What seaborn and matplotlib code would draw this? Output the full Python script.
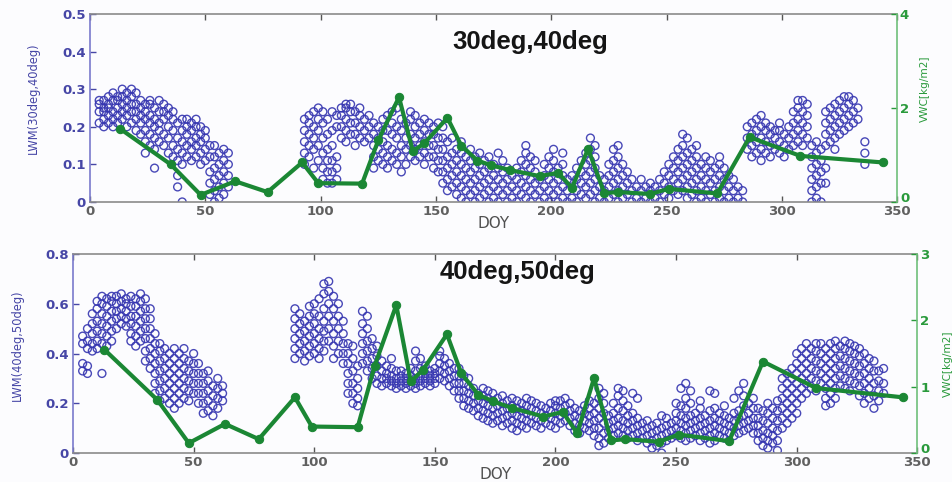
import matplotlib
matplotlib.use("Agg")
import matplotlib.pyplot as plt
import matplotlib.transforms as mtransforms
import seaborn as sns
import pandas as pd
import numpy as np

# ---------------- data ----------------
# VWC (green line), same series in both panels
vwc_doy = [13, 35, 48, 63, 77, 92, 99, 118, 125, 134, 140, 145, 155, 161, 168, 174,
           182, 195, 203, 209, 216, 223, 229, 243, 251, 272, 286, 308, 344]
vwc_val = [1.56, 0.80, 0.15, 0.44, 0.21, 0.84, 0.40, 0.39, 1.31, 2.23, 1.08, 1.25, 1.79,
           1.20, 0.88, 0.78, 0.68, 0.55, 0.62, 0.30, 1.13, 0.19, 0.21, 0.17, 0.28, 0.18,
           1.38, 0.98, 0.84]

# LWM(30deg,40deg): DOY columns and the values read in each column
lwm1_doy = [4, 6, 8, 10, 12, 14, 16, 18, 20, 22, 24, 26, 28, 30, 32, 34, 36, 38, 40, 42,
            44, 46, 48, 50, 52, 54, 56, 58, 60,
            93, 95, 97, 99, 101, 103, 105, 107, 109, 111, 113, 115, 117, 119, 121, 123,
            125, 127, 129, 131, 133, 135, 137, 139, 141, 143, 145, 147, 149, 151, 153,
            155, 157, 159, 161, 163, 165, 167, 169, 171, 173, 175, 177, 179, 181, 183,
            185, 187, 189, 191, 193, 195, 197, 199, 201, 203, 205, 207, 209, 211, 213,
            215, 217, 219, 221, 223, 225, 227, 229, 231, 233, 235, 237, 239, 241, 243,
            245, 247, 249, 251, 253, 255, 257, 259, 261, 263, 265, 267, 269, 271, 273,
            275, 277, 279, 281, 283, 285, 287, 289, 291, 293, 295, 297, 299, 301, 303,
            305, 307, 309, 311, 313, 315, 317, 319, 321, 323, 325, 327, 329, 331, 333, 336]
lwm1_val = [
    [0.21, 0.24, 0.26, 0.27], [0.20, 0.22, 0.25, 0.27, 0.24], [0.21, 0.23, 0.26, 0.28, 0.25],
    [0.20, 0.22, 0.24, 0.27, 0.29], [0.21, 0.23, 0.25, 0.27, 0.28], [0.22, 0.24, 0.26, 0.28, 0.30],
    [0.20, 0.23, 0.25, 0.27, 0.29], [0.21, 0.24, 0.26, 0.28, 0.30], [0.19, 0.22, 0.24, 0.26, 0.29],
    [0.18, 0.21, 0.23, 0.25, 0.27], [0.16, 0.19, 0.22, 0.24, 0.26, 0.13], [0.15, 0.18, 0.21, 0.23, 0.26, 0.27],
    [0.14, 0.17, 0.20, 0.22, 0.25, 0.09], [0.16, 0.19, 0.21, 0.24, 0.27], [0.15, 0.18, 0.22, 0.24, 0.26],
    [0.13, 0.17, 0.20, 0.23, 0.25], [0.12, 0.15, 0.19, 0.22, 0.24], [0.07, 0.11, 0.14, 0.17, 0.21, 0.04],
    [0.10, 0.13, 0.16, 0.19, 0.22, 0.00], [0.12, 0.15, 0.18, 0.20, 0.22], [0.11, 0.14, 0.16, 0.19, 0.21],
    [0.12, 0.15, 0.17, 0.20, 0.22], [0.10, 0.13, 0.16, 0.18, 0.20], [0.11, 0.14, 0.17, 0.19],
    [0.02, 0.05, 0.08, 0.12, 0.15], [0.00, 0.03, 0.06, 0.09, 0.12, 0.15], [0.01, 0.04, 0.07, 0.10, 0.13],
    [0.02, 0.05, 0.08, 0.11, 0.14], [0.04, 0.07, 0.10, 0.13],
    [0.10, 0.13, 0.16, 0.19, 0.22], [0.12, 0.15, 0.18, 0.21, 0.23], [0.09, 0.14, 0.17, 0.20, 0.24],
    [0.11, 0.15, 0.19, 0.22, 0.25], [0.06, 0.09, 0.13, 0.17, 0.21, 0.24], [0.05, 0.08, 0.11, 0.14, 0.18, 0.22],
    [0.05, 0.08, 0.11, 0.15, 0.19, 0.24], [0.06, 0.09, 0.12, 0.20, 0.23], [0.17, 0.20, 0.23, 0.25],
    [0.16, 0.19, 0.22, 0.25, 0.26], [0.18, 0.21, 0.24, 0.26], [0.15, 0.18, 0.21, 0.24],
    [0.17, 0.20, 0.23, 0.25], [0.16, 0.19, 0.22], [0.17, 0.20, 0.23], [0.09, 0.12, 0.15, 0.18, 0.21],
    [0.11, 0.14, 0.17, 0.20], [0.10, 0.13, 0.16, 0.19, 0.22], [0.09, 0.12, 0.15, 0.19, 0.23],
    [0.11, 0.14, 0.18, 0.21, 0.24], [0.10, 0.13, 0.17, 0.20, 0.25], [0.08, 0.12, 0.15, 0.19, 0.22],
    [0.10, 0.14, 0.17, 0.21], [0.12, 0.15, 0.18, 0.22, 0.24], [0.11, 0.14, 0.17, 0.20, 0.23],
    [0.12, 0.15, 0.18, 0.21], [0.10, 0.13, 0.16, 0.19, 0.22], [0.12, 0.15, 0.18, 0.21],
    [0.09, 0.12, 0.15, 0.18, 0.20], [0.08, 0.11, 0.14, 0.17, 0.21], [0.05, 0.08, 0.11, 0.14, 0.17, 0.20],
    [0.03, 0.06, 0.09, 0.12, 0.16], [0.04, 0.07, 0.10, 0.13, 0.17], [0.02, 0.05, 0.08, 0.11, 0.14],
    [0.01, 0.04, 0.07, 0.10, 0.13, 0.16], [0.00, 0.03, 0.06, 0.09, 0.12], [0.02, 0.05, 0.08, 0.11, 0.14],
    [0.00, 0.03, 0.06, 0.09, 0.12], [0.01, 0.04, 0.07, 0.10, 0.13], [0.02, 0.05, 0.08, 0.11],
    [0.00, 0.03, 0.06, 0.09, 0.12], [0.01, 0.04, 0.07, 0.10], [0.00, 0.03, 0.06, 0.09, 0.13],
    [0.02, 0.05, 0.08, 0.11], [0.00, 0.03, 0.06, 0.09], [0.01, 0.04, 0.07], [0.00, 0.03, 0.06, 0.09],
    [0.02, 0.05, 0.08, 0.11], [0.01, 0.04, 0.07, 0.10, 0.13, 0.15], [0.00, 0.03, 0.06, 0.09, 0.12],
    [0.02, 0.05, 0.08, 0.11], [0.00, 0.03, 0.06], [0.01, 0.04, 0.07, 0.10], [0.00, 0.03, 0.06, 0.09, 0.12],
    [0.02, 0.05, 0.08, 0.11, 0.14], [0.00, 0.03, 0.06, 0.09], [0.01, 0.04, 0.07, 0.10, 0.13],
    [0.00, 0.03, 0.06], [0.01, 0.04, 0.07], [0.00, 0.03, 0.06, 0.09], [0.02, 0.05, 0.08, 0.11],
    [0.01, 0.04, 0.07, 0.10, 0.13], [0.02, 0.05, 0.08, 0.11, 0.14, 0.17], [0.00, 0.03, 0.06, 0.09, 0.12, 0.15],
    [0.01, 0.04, 0.07], [0.00, 0.03, 0.06], [0.01, 0.04, 0.07, 0.10], [0.02, 0.05, 0.08, 0.11, 0.14],
    [0.00, 0.03, 0.06, 0.09, 0.12, 0.15], [0.01, 0.04, 0.07, 0.10], [0.02, 0.05, 0.08], [0.00, 0.03, 0.06],
    [0.01, 0.04], [0.00, 0.03, 0.06], [0.01, 0.04], [0.00, 0.03, 0.05], [0.01, 0.04], [0.00, 0.03, 0.06],
    [0.02, 0.05, 0.08], [0.01, 0.04, 0.07, 0.10], [0.03, 0.06, 0.09, 0.12], [0.02, 0.05, 0.08, 0.11, 0.14],
    [0.03, 0.06, 0.09, 0.12, 0.15, 0.18], [0.01, 0.04, 0.07, 0.10, 0.13, 0.17], [0.02, 0.05, 0.08, 0.11, 0.14],
    [0.00, 0.03, 0.06, 0.09, 0.12, 0.15], [0.01, 0.04, 0.07, 0.10], [0.00, 0.03, 0.06, 0.09, 0.12],
    [0.02, 0.05, 0.08, 0.11], [0.00, 0.03, 0.06, 0.09], [0.01, 0.04, 0.07, 0.10, 0.12],
    [0.00, 0.03, 0.06, 0.09], [0.01, 0.04, 0.07], [0.00, 0.03, 0.06], [0.01, 0.04], [0.00, 0.03],
    [0.14, 0.17, 0.20], [0.12, 0.15, 0.18, 0.21], [0.13, 0.16, 0.19, 0.22], [0.11, 0.14, 0.17, 0.20, 0.23],
    [0.13, 0.16, 0.19, 0.21], [0.12, 0.15, 0.18, 0.20], [0.14, 0.17, 0.19], [0.13, 0.16, 0.19, 0.21],
    [0.12, 0.15, 0.18], [0.14, 0.17, 0.20], [0.15, 0.18, 0.21, 0.24], [0.16, 0.19, 0.22, 0.25, 0.27],
    [0.15, 0.18, 0.21, 0.24, 0.27], [0.17, 0.20, 0.23, 0.26], [0.00, 0.03, 0.06, 0.09, 0.12, 0.15],
    [0.01, 0.04, 0.07, 0.10, 0.13, 0.16], [0.00, 0.05, 0.08, 0.11, 0.14], [0.15, 0.18, 0.21, 0.24, 0.05, 0.09],
    [0.16, 0.19, 0.22, 0.25], [0.14, 0.17, 0.20, 0.23, 0.26], [0.18, 0.21, 0.24, 0.27],
    [0.19, 0.22, 0.25, 0.28], [0.20, 0.23, 0.26, 0.28], [0.21, 0.24, 0.27], [0.22, 0.25], [0.10, 0.13, 0.16],
]

# LWM(40deg,50deg)
lwm2_doy = [4, 6, 8, 10, 12, 14, 16, 18, 20, 22, 24, 26, 28, 30, 32, 34, 36, 38, 40, 42,
            44, 46, 48, 50, 52, 54, 56, 58, 60, 62,
            92, 94, 96, 98, 100, 102, 104, 106, 108, 110, 112, 114, 116, 118, 120, 122,
            124, 126, 128, 130, 132, 134, 136, 138, 140, 142, 144, 146, 148, 150, 152,
            154, 156, 158, 160, 162, 164, 166, 168, 170, 172, 174, 176, 178, 180, 182,
            184, 186, 188, 190, 192, 194, 196, 198, 200, 202, 204, 206, 208, 210, 212,
            214, 216, 218, 220, 222, 224, 226, 228, 230, 232, 234, 236, 238, 240, 242,
            244, 246, 248, 250, 252, 254, 256, 258, 260, 262, 264, 266, 268, 270, 272,
            274, 276, 278, 280, 282, 284, 286, 288, 290, 292, 294, 296, 298, 300, 302,
            304, 306, 308, 310, 312, 314, 316, 318, 320, 322, 324, 326, 328, 330, 332,
            334, 336]
lwm2_val = [
    [0.33, 0.36, 0.44, 0.47], [0.32, 0.35, 0.42, 0.45, 0.50], [0.41, 0.44, 0.48, 0.52, 0.56],
    [0.42, 0.45, 0.49, 0.53, 0.58, 0.61], [0.44, 0.48, 0.52, 0.56, 0.60, 0.63, 0.32],
    [0.43, 0.47, 0.51, 0.55, 0.59, 0.62], [0.45, 0.49, 0.53, 0.57, 0.61, 0.63],
    [0.50, 0.54, 0.57, 0.60, 0.63], [0.52, 0.55, 0.58, 0.61, 0.64], [0.51, 0.54, 0.57, 0.60, 0.62],
    [0.45, 0.48, 0.52, 0.55, 0.59, 0.63], [0.43, 0.47, 0.51, 0.55, 0.59, 0.62],
    [0.45, 0.49, 0.53, 0.57, 0.61, 0.64], [0.37, 0.41, 0.46, 0.50, 0.54, 0.58, 0.62],
    [0.34, 0.38, 0.42, 0.46, 0.50, 0.54, 0.58], [0.24, 0.28, 0.32, 0.36, 0.40, 0.44, 0.48],
    [0.21, 0.25, 0.29, 0.33, 0.37, 0.41, 0.44], [0.22, 0.26, 0.30, 0.34, 0.38, 0.42],
    [0.20, 0.24, 0.28, 0.32, 0.36, 0.40], [0.18, 0.22, 0.26, 0.30, 0.34, 0.38, 0.42],
    [0.20, 0.24, 0.28, 0.32, 0.36, 0.40], [0.22, 0.26, 0.30, 0.34, 0.38, 0.42],
    [0.21, 0.25, 0.29, 0.33, 0.37], [0.24, 0.28, 0.32, 0.36, 0.40], [0.20, 0.24, 0.28, 0.32, 0.36],
    [0.16, 0.20, 0.24, 0.28, 0.32], [0.17, 0.21, 0.25, 0.29, 0.33], [0.15, 0.19, 0.23, 0.27],
    [0.18, 0.22, 0.26, 0.30], [0.21, 0.24, 0.27],
    [0.38, 0.42, 0.46, 0.50, 0.54, 0.58], [0.40, 0.44, 0.48, 0.52, 0.56], [0.37, 0.41, 0.45, 0.49, 0.53],
    [0.39, 0.43, 0.47, 0.51, 0.55, 0.59], [0.40, 0.44, 0.48, 0.52, 0.56, 0.60],
    [0.38, 0.42, 0.46, 0.50, 0.55, 0.62], [0.41, 0.45, 0.49, 0.53, 0.58, 0.64, 0.68],
    [0.45, 0.50, 0.55, 0.60, 0.65, 0.69], [0.38, 0.43, 0.48, 0.53, 0.58, 0.63],
    [0.40, 0.45, 0.50, 0.55, 0.60], [0.36, 0.40, 0.44, 0.48, 0.53], [0.24, 0.28, 0.32, 0.36, 0.40, 0.44],
    [0.20, 0.24, 0.28, 0.33, 0.38, 0.43], [0.19, 0.22, 0.26, 0.30, 0.35],
    [0.36, 0.40, 0.44, 0.48, 0.52, 0.57], [0.33, 0.37, 0.41, 0.45, 0.50, 0.55],
    [0.30, 0.34, 0.38, 0.42, 0.46], [0.28, 0.31, 0.35, 0.39, 0.43], [0.27, 0.30, 0.33, 0.37],
    [0.28, 0.30, 0.32, 0.35], [0.27, 0.29, 0.31, 0.34, 0.38], [0.26, 0.28, 0.30, 0.33],
    [0.27, 0.29, 0.31, 0.33], [0.26, 0.28, 0.30, 0.32], [0.27, 0.29, 0.31, 0.34],
    [0.26, 0.28, 0.30, 0.33, 0.37, 0.41], [0.27, 0.29, 0.31, 0.34, 0.38], [0.28, 0.30, 0.32, 0.35],
    [0.27, 0.29, 0.31, 0.33], [0.28, 0.30, 0.32, 0.34], [0.30, 0.33, 0.36, 0.39, 0.41],
    [0.29, 0.32, 0.35, 0.38], [0.27, 0.30, 0.33, 0.36], [0.25, 0.28, 0.31, 0.34],
    [0.22, 0.25, 0.28, 0.31, 0.34], [0.19, 0.22, 0.25, 0.28, 0.31], [0.18, 0.21, 0.24, 0.27, 0.30],
    [0.17, 0.20, 0.23, 0.26], [0.15, 0.18, 0.21, 0.24], [0.14, 0.17, 0.20, 0.23, 0.26],
    [0.13, 0.16, 0.19, 0.22, 0.25], [0.12, 0.15, 0.18, 0.21, 0.24], [0.13, 0.16, 0.19, 0.22],
    [0.11, 0.14, 0.17, 0.20, 0.23], [0.12, 0.15, 0.18, 0.21], [0.10, 0.13, 0.16, 0.19, 0.22],
    [0.09, 0.12, 0.15, 0.18, 0.21], [0.11, 0.14, 0.17, 0.20], [0.10, 0.13, 0.16, 0.19, 0.22],
    [0.12, 0.15, 0.18, 0.21], [0.11, 0.14, 0.17, 0.20], [0.10, 0.13, 0.16, 0.19], [0.12, 0.15, 0.18],
    [0.11, 0.14, 0.17, 0.20], [0.10, 0.13, 0.16, 0.19, 0.21], [0.12, 0.15, 0.18, 0.21],
    [0.13, 0.16, 0.19, 0.22], [0.11, 0.14, 0.17, 0.20], [0.09, 0.12, 0.15, 0.18], [0.08, 0.11, 0.14, 0.17],
    [0.10, 0.13, 0.16, 0.19], [0.09, 0.12, 0.15, 0.18, 0.21], [0.07, 0.10, 0.13, 0.16, 0.20],
    [0.03, 0.06, 0.10, 0.14, 0.18, 0.22, 0.26], [0.04, 0.08, 0.12, 0.16, 0.20, 0.24],
    [0.06, 0.09, 0.12, 0.15], [0.07, 0.10, 0.13, 0.16, 0.20], [0.08, 0.11, 0.14, 0.18, 0.23, 0.26],
    [0.07, 0.10, 0.13, 0.17, 0.21, 0.25], [0.06, 0.09, 0.12, 0.15, 0.19], [0.07, 0.10, 0.13, 0.16, 0.24],
    [0.05, 0.08, 0.11, 0.14, 0.22], [0.06, 0.09, 0.12], [0.04, 0.07, 0.10, 0.13], [0.02, 0.05, 0.08, 0.11],
    [0.03, 0.06, 0.09, 0.12], [0.00, 0.04, 0.07, 0.10, 0.15], [0.05, 0.08, 0.11, 0.14], [0.06, 0.09, 0.12],
    [0.07, 0.10, 0.13, 0.16, 0.20], [0.06, 0.09, 0.12, 0.15, 0.19, 0.26],
    [0.05, 0.08, 0.11, 0.14, 0.18, 0.22, 0.28], [0.06, 0.09, 0.12, 0.15, 0.20, 0.25],
    [0.07, 0.10, 0.13, 0.16], [0.05, 0.08, 0.11, 0.14, 0.18, 0.21], [0.06, 0.09, 0.12, 0.15],
    [0.04, 0.07, 0.10, 0.13, 0.17, 0.25], [0.05, 0.08, 0.11, 0.14, 0.18, 0.24], [0.07, 0.10, 0.13, 0.16],
    [0.06, 0.09, 0.12, 0.15, 0.19], [0.05, 0.08, 0.11, 0.14], [0.07, 0.10, 0.13, 0.16, 0.22],
    [0.08, 0.11, 0.14, 0.17, 0.25], [0.09, 0.12, 0.15, 0.19, 0.23, 0.28], [0.10, 0.13, 0.16, 0.20],
    [0.08, 0.11, 0.14, 0.18, 0.22], [0.05, 0.08, 0.11, 0.14, 0.18], [0.03, 0.06, 0.09, 0.13, 0.17],
    [0.02, 0.05, 0.08, 0.12, 0.16, 0.20], [0.04, 0.07, 0.10, 0.14, 0.18],
    [0.01, 0.05, 0.09, 0.13, 0.17, 0.21], [0.10, 0.14, 0.18, 0.22, 0.26, 0.30],
    [0.12, 0.16, 0.20, 0.24, 0.28, 0.32], [0.14, 0.18, 0.22, 0.26, 0.30, 0.34],
    [0.16, 0.20, 0.24, 0.28, 0.32, 0.36, 0.40], [0.22, 0.26, 0.30, 0.34, 0.38, 0.42],
    [0.24, 0.28, 0.32, 0.36, 0.40, 0.44], [0.26, 0.30, 0.34, 0.38, 0.42],
    [0.25, 0.29, 0.33, 0.37, 0.41, 0.44], [0.28, 0.32, 0.36, 0.40, 0.44],
    [0.19, 0.22, 0.26, 0.30, 0.34, 0.38, 0.42], [0.20, 0.24, 0.28, 0.32, 0.36, 0.40, 0.44],
    [0.22, 0.26, 0.30, 0.34, 0.38, 0.42, 0.45], [0.27, 0.31, 0.35, 0.39, 0.43],
    [0.26, 0.30, 0.34, 0.38, 0.42, 0.45], [0.25, 0.29, 0.33, 0.37, 0.41, 0.44],
    [0.28, 0.32, 0.36, 0.40, 0.43], [0.23, 0.27, 0.31, 0.35, 0.39, 0.42],
    [0.20, 0.24, 0.28, 0.32, 0.36, 0.40], [0.22, 0.26, 0.30, 0.34, 0.38],
    [0.18, 0.23, 0.28, 0.33, 0.37], [0.21, 0.25, 0.29, 0.33], [0.24, 0.28, 0.34],
]

titles = ["30deg,40deg", "40deg,50deg"]
left_labels = ["LWM(30deg,40deg)", "LWM(40deg,50deg)"]
right_label = "VWC[kg/m2]"
xlabel = "DOY"

# ---------------- styling ----------------
BLUE = "#3535b0"
BLUE_TXT = "#4646a6"
GREEN = "#1b8734"
GREEN_TXT = "#2a9a3c"
GREY = "#8a8a8a"

sns.set_theme(style="white")
plt.rcParams["font.family"] = ["DejaVu Sans"]


def explode(doys, vals):
    xs, ys = [], []
    for d, col in zip(doys, vals):
        for v in col:
            xs.append(d)
            ys.append(v)
    return pd.DataFrame({"DOY": xs, "LWM": ys})


fig = plt.figure(figsize=(9.53, 4.82), dpi=100)
fig.patch.set_facecolor("#fcfcfe")

axes_rects = [[0.0944, 0.581, 0.847, 0.390], [0.0766, 0.060, 0.886, 0.413]]
left_lims = [(0, 0.5), (0, 0.8)]
left_ticks = [[0, 0.1, 0.2, 0.3, 0.4, 0.5], [0, 0.2, 0.4, 0.6, 0.8]]
left_ticklabels = [["0", "0.1", "0.2", "0.3", "0.4", "0.5"], ["0", "0.2", "0.4", "0.6", "0.8"]]
right_lims = [(0, 4), (0, 3)]
right_ticks = [[0, 2, 4], [0, 1, 2, 3]]
title_pos = [(0.546, 0.812), (0.527, 0.872)]
ylabel_x = [-0.070, -0.066]
ylabel_y = [0.55, 0.54]
rlabel_x = [1.035, 1.036]
rlabel_y = [0.6, 0.45]

datasets = [explode(lwm1_doy, lwm1_val), explode(lwm2_doy, lwm2_val)]
vwc_df = pd.DataFrame({"DOY": vwc_doy, "VWC": vwc_val})

for i in range(2):
    ax = fig.add_axes(axes_rects[i])
    ax.set_facecolor("#fcfcfe")
    sns.scatterplot(data=datasets[i], x="DOY", y="LWM", ax=ax, marker="o", s=32,
                    facecolor="none", edgecolor=BLUE, linewidth=1.0, alpha=0.9, legend=False)
    ax.set_xlim(0, 350)
    ax.set_ylim(*left_lims[i])
    ax.set_xticks([0, 50, 100, 150, 200, 250, 300, 350])
    ax.set_xticklabels(["0", "50", "100", "150", "200", "250", "300", "350"])
    ax.set_yticks(left_ticks[i])
    ax.set_yticklabels(left_ticklabels[i])
    ax.tick_params(axis="y", direction="in", length=4, width=1, colors=BLUE_TXT,
                   right=True, left=True, labelsize=9.5, pad=3)
    ax.tick_params(axis="x", direction="in", length=4, width=1, colors="#555555",
                   top=True, bottom=True, labelsize=9.5, pad=2)
    for lab in ax.get_yticklabels() + ax.get_xticklabels():
        lab.set_fontweight("bold")
    for lab in ax.get_xticklabels():
        lab.set_color("#606060")
    ax.set_xlabel(xlabel, fontsize=11, color="#505050", labelpad=-1)
    ax.set_ylabel(left_labels[i], fontsize=8.3, color=BLUE_TXT)
    ax.yaxis.set_label_coords(ylabel_x[i], ylabel_y[i])
    ax.yaxis.label.set_verticalalignment("center")
    ax.spines["left"].set_color("#7a7acc")
    ax.spines["top"].set_color(GREY)
    ax.spines["bottom"].set_color(GREY)
    ax.spines["right"].set_visible(False)
    for s in ["left", "top", "bottom"]:
        ax.spines[s].set_linewidth(1.2)

    ax2 = ax.twinx()
    sns.lineplot(data=vwc_df, x="DOY", y="VWC", ax=ax2, color=GREEN, linewidth=3.0,
                 marker="o", markersize=6, markeredgecolor=GREEN, sort=False,
                 estimator=None, legend=False)
    ax2.set_ylim(*right_lims[i])
    ax2.set_yticks(right_ticks[i])
    ax2.set_yticklabels([str(t) for t in right_ticks[i]])
    ax2.tick_params(axis="y", direction="in", length=4, width=1, colors=GREEN_TXT,
                    labelsize=9.5, pad=2)
    rlabels = ax2.get_yticklabels()
    for lab in rlabels:
        lab.set_fontweight("bold")
    # lift the "0" slightly so it sits above the x tick label, as in the reference
    rlabels[0].set_transform(rlabels[0].get_transform() +
                             mtransforms.ScaledTranslation(0, 5 / 100, fig.dpi_scale_trans))
    ax2.set_ylabel(right_label, fontsize=7.6, color=GREEN_TXT, rotation=90)
    ax2.yaxis.set_label_coords(rlabel_x[i], rlabel_y[i])
    ax2.yaxis.label.set_verticalalignment("center")
    ax2.yaxis.label.set_horizontalalignment("center")
    ax2.spines["right"].set_color("#6fbf7a")
    ax2.spines["right"].set_linewidth(1.2)
    for s in ["left", "top", "bottom"]:
        ax2.spines[s].set_visible(False)
    ax2.set_xlim(0, 350)

    ax.text(title_pos[i][0], title_pos[i][1], titles[i], transform=ax.transAxes,
            ha="center", va="baseline", fontsize=18.5, fontweight="bold", color="#151515",
            family=["Liberation Sans", "DejaVu Sans"])

fig.savefig("out.png", dpi=100, facecolor=fig.get_facecolor())
